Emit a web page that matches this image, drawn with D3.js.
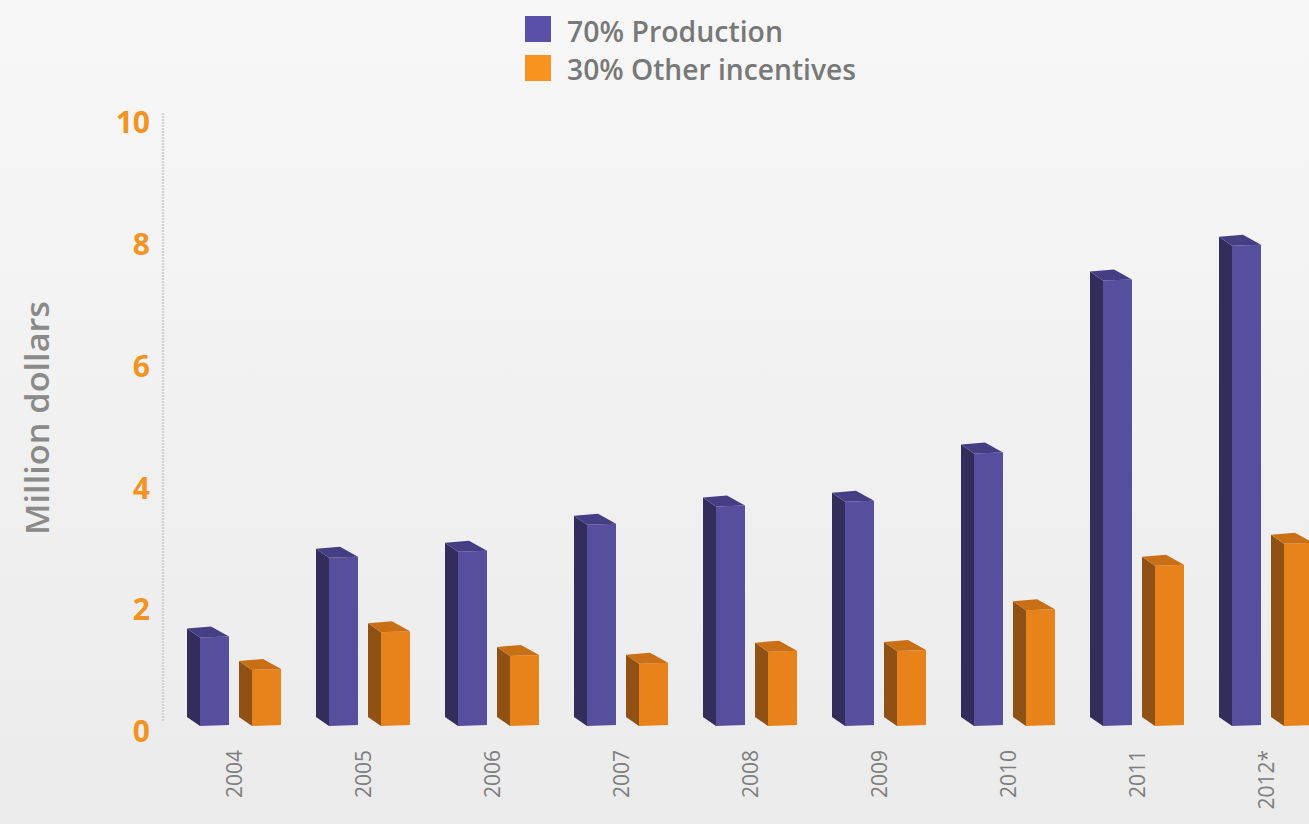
<!DOCTYPE html>
<html>
<head>
<meta charset="utf-8">
<script src="https://cdn.jsdelivr.net/npm/d3@7"></script>
<style>
  html, body { margin: 0; padding: 0; }
  body { width: 1309px; height: 824px; overflow: hidden; }
  svg { display: block; }
</style>
</head>
<body>
<svg id="chart" width="1309" height="824"></svg>
<script>
// Yearly incentive spending, million dollars
const years = ["2004", "2005", "2006", "2007", "2008", "2009", "2010", "2011", "2012*"];
const production = [1.45, 2.76, 2.86, 3.30, 3.60, 3.68, 4.47, 7.31, 7.88];
const otherIncentives = [0.92, 1.54, 1.15, 1.02, 1.22, 1.23, 1.90, 2.63, 2.99];
const yTicks = [0, 2, 4, 6, 8, 10];
const seriesNames = ["70% Production", "30% Other incentives"];

const W = 1309, H = 824;
const svg = d3.select("#chart");

// soft grey backdrop
const defs = svg.append("defs");
const bg = defs.append("linearGradient").attr("id", "bg").attr("x1", 0).attr("y1", 0).attr("x2", 0).attr("y2", 1);
bg.append("stop").attr("offset", "0%").attr("stop-color", "#f7f7f7");
bg.append("stop").attr("offset", "100%").attr("stop-color", "#ebebeb");
svg.append("rect").attr("width", W).attr("height", H).attr("fill", "url(#bg)");

const y = d3.scaleLinear().domain([0, 10]).range([731, 121.5]);
const x = d3.scaleBand().domain(years).range([169, 1330]).paddingInner(0).paddingOuter(0);

// axis line
svg.append("line")
  .attr("x1", 163).attr("x2", 163)
  .attr("y1", 113).attr("y2", 722)
  .attr("stroke", "#d4d4d4").attr("stroke-width", 2.5)
  .attr("stroke-dasharray", "2,1");

// y axis labels
const yAxis = d3.axisLeft(y).tickValues(yTicks).tickSize(0).tickPadding(13).tickFormat(d3.format("d"));
const gy = svg.append("g").attr("transform", "translate(163,0)").call(yAxis);
gy.select(".domain").remove();
gy.selectAll("text")
  .attr("fill", "#f39322")
  .attr("font-family", "'Open Sans', sans-serif")
  .attr("font-weight", 700)
  .attr("font-size", 30)
  .attr("dy", "0.36em");

// y axis title
svg.append("text")
  .attr("transform", "translate(49,418) rotate(-90)")
  .attr("text-anchor", "middle")
  .attr("font-family", "'Open Sans', sans-serif")
  .attr("font-weight", 600)
  .attr("font-size", 33)
  .attr("fill", "#8a8a8a")
  .attr("textLength", 234)
  .attr("lengthAdjust", "spacingAndGlyphs")
  .text("Million dollars");

// x labels
svg.append("g").selectAll("text").data(years).join("text")
  .attr("transform", d => `translate(${x(d) + x.bandwidth() / 2 + 8},750) rotate(-90)`)
  .attr("text-anchor", "end")
  .attr("font-family", "'Open Sans', sans-serif")
  .attr("font-size", 21)
  .attr("fill", "#7d7d7d")
  .text(d => d);

// 3D bar drawing: left side face, front face, top face
const palettes = [
  { front: "#564f9d", side: "#332d5c", top: "#453e85", legend: "#5a50a7" },
  { front: "#e8831c", side: "#8f5214", top: "#c96f16", legend: "#f7931e" }
];
const depthBase = 14;   // back-plane offset from the axis zero
const sideW = 13, frontW = 29, dz = 8;

function drawBar(g, x0, v, pal) {
  const yt = y(v) - depthBase;       // back top
  const yb = y(0) - depthBase;       // back bottom
  const fx = x0 + sideW, fr = fx + frontW;
  // front face
  g.append("polygon")
    .attr("points", [[fx, yt + dz + 1], [fr, yt + dz], [fr, yb + dz], [fx, yb + dz + 1]].join(" "))
    .attr("fill", pal.front);
  // side face
  g.append("polygon")
    .attr("points", [[x0, yt], [fx, yt + dz + 1], [fx, yb + dz + 1], [x0, yb]].join(" "))
    .attr("fill", pal.side);
  // top face
  g.append("polygon")
    .attr("points", [[x0, yt], [x0 + 24, yt - 2], [fr, yt + dz], [fx, yt + dz + 1]].join(" "))
    .attr("fill", pal.top);
}

const bars = svg.append("g");
years.forEach((yr, i) => {
  const gx = x(yr) + 18;
  drawBar(bars.append("g"), gx, production[i], palettes[0]);
  drawBar(bars.append("g"), gx + 52, otherIncentives[i], palettes[1]);
});

// legend
const legend = svg.append("g");
const legendText = [[567, 42, 216], [567, 80, 289]];
seriesNames.forEach((name, i) => {
  legend.append("rect")
    .attr("x", 525).attr("y", 16 + i * 39)
    .attr("width", 26).attr("height", 26)
    .attr("fill", palettes[i].legend);
  legend.append("text")
    .attr("x", legendText[i][0]).attr("y", legendText[i][1])
    .attr("font-family", "'Open Sans', sans-serif")
    .attr("font-weight", 600)
    .attr("font-size", 29)
    .attr("fill", "#787878")
    .attr("textLength", legendText[i][2])
    .attr("lengthAdjust", "spacingAndGlyphs")
    .text(name);
});
</script>
</body>
</html>
